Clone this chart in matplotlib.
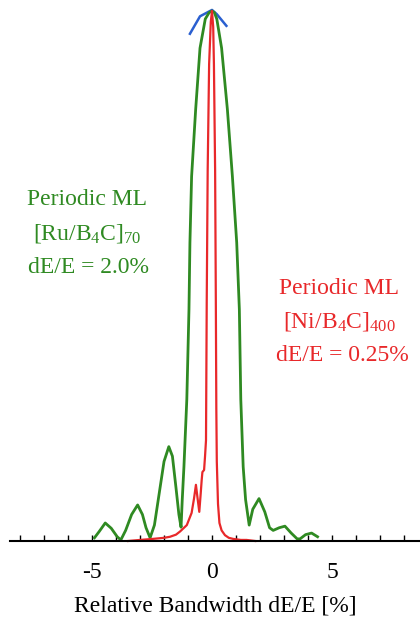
import matplotlib
matplotlib.use("Agg")
import matplotlib.pyplot as plt

plt.rcParams['font.family'] = ['Liberation Serif', 'DejaVu Serif']
plt.rcParams['mathtext.fontset'] = 'custom'
plt.rcParams['mathtext.rm'] = 'Liberation Serif'
plt.rcParams['mathtext.it'] = 'Liberation Serif:italic'
plt.rcParams['axes.unicode_minus'] = False

# Ru/B4C multilayer (green)
ru_x = [-4.9, -4.7, -4.45, -4.2, -3.95, -3.8, -3.6, -3.35, -3.1, -2.9, -2.75, -2.58,
        -2.4, -2.2, -2.0, -1.8, -1.65, -1.5, -1.38, -1.29, -1.24, -1.17, -1.05, -0.96,
        -0.92, -0.85, -0.68, -0.5, -0.28, -0.12, 0.0, 0.1, 0.2, 0.4, 0.64, 0.85, 1.03, 1.14, 1.2,
        1.3, 1.4, 1.55, 1.7, 1.96, 2.2, 2.4, 2.55, 2.8, 3.04, 3.3, 3.55, 3.67, 3.9,
        4.15, 4.4]
ru_y = [0.006, 0.018, 0.034, 0.024, 0.008, 0.002, 0.02, 0.05, 0.068, 0.05, 0.025, 0.006,
        0.03, 0.09, 0.15, 0.178, 0.16, 0.1, 0.05, 0.026, 0.078, 0.14, 0.267, 0.437,
        0.563, 0.688, 0.815, 0.93, 0.985, 0.997, 1.0, 0.997, 0.985, 0.93, 0.815, 0.688, 0.563, 0.437, 0.267,
        0.14, 0.078, 0.03, 0.06, 0.08, 0.055, 0.025, 0.02, 0.025, 0.028, 0.015, 0.004, 0.004, 0.012,
        0.015, 0.008]

# Ni/B4C multilayer (red)
ni_x = [-3.5, -3.0, -2.46, -2.0, -1.75, -1.5, -1.33, -1.05, -0.85, -0.75, -0.67, -0.6,
        -0.53, -0.47, -0.43, -0.4, -0.33, -0.29, -0.25, -0.22, -0.18, -0.12, -0.05, 0.0,
        0.05, 0.08, 0.13, 0.16, 0.18, 0.2, 0.25, 0.31, 0.4, 0.54, 0.7, 0.88, 1.2, 1.44, 1.8]
ni_y = [0.0, 0.002, 0.004, 0.006, 0.008, 0.012, 0.018, 0.03, 0.053, 0.08, 0.106, 0.08,
        0.055, 0.09, 0.115, 0.13, 0.134, 0.16, 0.19, 0.45, 0.7, 0.9, 0.98, 1.0,
        0.97, 0.9, 0.7, 0.45, 0.25, 0.15, 0.07, 0.034, 0.02, 0.011, 0.006, 0.004, 0.002, 0.002, 0.0]

# third curve, only its top is visible (blue)
top_x = [-0.92, -0.5, 0.0, 0.2, 0.6]
top_y = [0.957, 0.99, 1.002, 0.994, 0.972]

green = '#2f8a22'
red = '#e8282a'
blue = '#2a5fd0'

fig = plt.figure(figsize=(4.2, 6.23), dpi=100)
ax = fig.add_axes([10/420, 82/623, 410/420, 541/623])

ax.plot(top_x, top_y, color=blue, lw=1.8, clip_on=False)
ax.plot(ru_x, ru_y, color=green, lw=2, clip_on=False)
ax.plot(ni_x, ni_y, color=red, lw=1.6, clip_on=False)

ax.set_xlim(-8.42, 8.67)
ax.set_ylim(0, 541/530)

for s in ['left', 'right', 'top']:
    ax.spines[s].set_visible(False)
ax.spines['bottom'].set_linewidth(1.5)
ax.set_yticks([])
ax.set_xticks([-5, 0, 5])
ax.set_xticks(range(-8, 9), minor=True)
ax.tick_params(axis='x', which='both', direction='in', length=4, width=1, labelsize=17, pad=15)
ax.set_xlabel('Relative Bandwidth dE/E [%]', fontsize=17, labelpad=9)

ax.text(-5.2, 0.644, 'Periodic ML', color=green, fontsize=17, ha='center', va='center')
ax.text(-5.2, 0.58, '[Ru/B$_4$C]$_{70}$', color=green, fontsize=17, ha='center', va='center')
ax.text(-5.15, 0.516, 'dE/E = 2.0%', color=green, fontsize=17, ha='center', va='center')

ax.text(5.3, 0.477, 'Periodic ML', color=red, fontsize=17, ha='center', va='center')
ax.text(5.3, 0.415, '[Ni/B$_4$C]$_{400}$', color=red, fontsize=17, ha='center', va='center')
ax.text(5.45, 0.35, 'dE/E = 0.25%', color=red, fontsize=17, ha='center', va='center')

fig.savefig('out.png', dpi=100)
